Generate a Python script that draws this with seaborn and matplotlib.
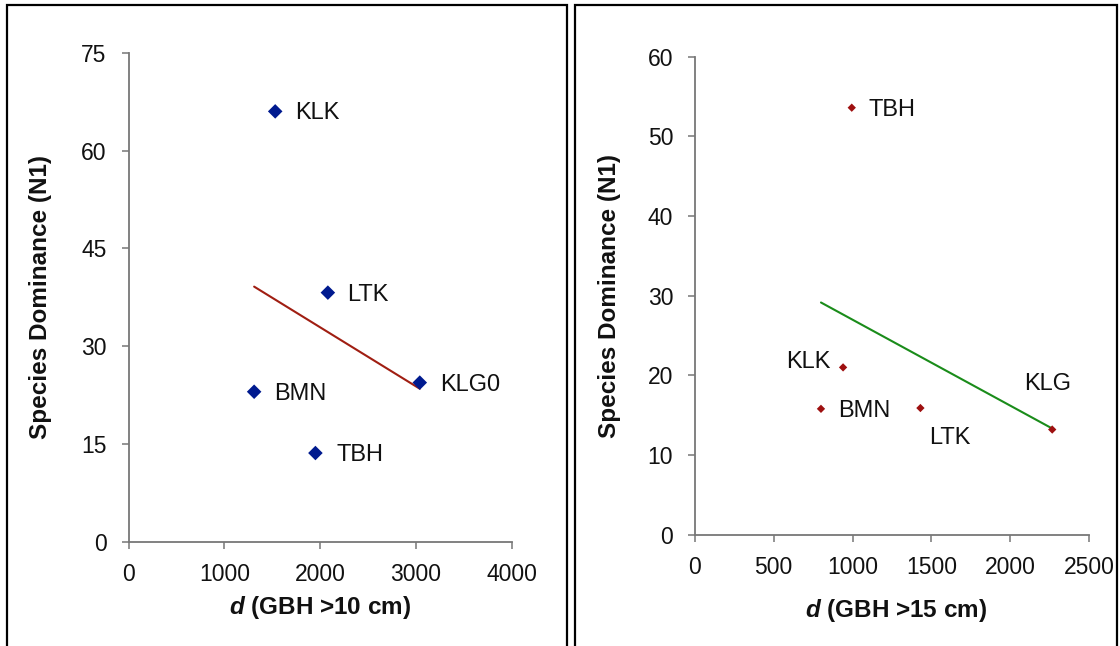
import matplotlib
matplotlib.use("Agg")
import matplotlib.pyplot as plt
import seaborn as sns
import pandas as pd
from matplotlib.patches import Rectangle

sns.set_theme(style="white")
plt.rcParams['font.family'] = ['Liberation Sans', 'DejaVu Sans']
plt.rcParams['mathtext.fontset'] = 'custom'
plt.rcParams['mathtext.bfit'] = 'Liberation Sans:italic:bold'
plt.rcParams['mathtext.it'] = 'Liberation Sans:italic'
plt.rcParams['mathtext.bf'] = 'Liberation Sans:bold'
plt.rcParams['mathtext.rm'] = 'Liberation Sans'

# Panel A data (GBH > 10 cm)
sites_a = ["KLK", "LTK", "KLG0", "BMN", "TBH"]
d_a = [1530, 2080, 3040, 1310, 1950]
n1_a = [66.0, 38.2, 24.4, 23.0, 13.6]

# Panel B data (GBH > 15 cm)
sites_b = ["TBH", "KLK", "BMN", "LTK", "KLG"]
d_b = [995, 940, 800, 1430, 2265]
n1_b = [53.6, 21.0, 15.8, 15.9, 13.2]

yticks_a = [0, 15, 30, 45, 60, 75]
xticks_a = [0, 1000, 2000, 3000, 4000]
yticks_b = [0, 10, 20, 30, 40, 50, 60]
xticks_b = [0, 500, 1000, 1500, 2000, 2500]

df_a = pd.DataFrame({"site": sites_a, "d": d_a, "n1": n1_a})
df_b = pd.DataFrame({"site": sites_b, "d": d_b, "n1": n1_b})

W, H = 1120, 646
fig = plt.figure(figsize=(11.2, 6.46), dpi=100)
fig.patch.set_facecolor("white")

def fx(px):
    return px / W

def fy(py):
    return 1 - py / H

# panel frames
for x0, x1 in [(7, 567), (575, 1117)]:
    fig.add_artist(Rectangle((fx(x0), fy(660)), fx(x1) - fx(x0), fy(5) - fy(660),
                             transform=fig.transFigure, fill=False,
                             edgecolor="black", linewidth=1.6, zorder=0))

ax1 = fig.add_axes([fx(128.7), fy(541.7), fx(511.7) - fx(128.7), fy(52.7) - fy(541.7)])
ax2 = fig.add_axes([fx(694.7), fy(534.7), fx(1089.3) - fx(694.7), fy(56.7) - fy(534.7)])

spine_col = "#777777"
TXT = "#111111"

def style(ax, xt, yt, xpad, ypad):
    for s in ["top", "right"]:
        ax.spines[s].set_visible(False)
    for s in ["left", "bottom"]:
        ax.spines[s].set_color(spine_col)
        ax.spines[s].set_linewidth(1.3)
    ax.set_xticks(xt)
    ax.set_yticks(yt)
    ax.set_xlim(xt[0], xt[-1])
    ax.set_ylim(yt[0], yt[-1])
    ax.tick_params(axis="both", direction="out", length=5, width=1.1,
                   color=spine_col, labelsize=16.5, labelcolor=TXT,
                   left=True, bottom=True)
    ax.tick_params(axis="x", pad=xpad)
    ax.tick_params(axis="y", pad=ypad)
    ax.set_facecolor("white")
    ax.grid(False)

# Panel A
sns.regplot(data=df_a, x="d", y="n1", ax=ax1, scatter=False, ci=None, truncate=True,
            line_kws=dict(color="#A01E12", linewidth=1.5))
sns.scatterplot(data=df_a, x="d", y="n1", ax=ax1, marker="D", s=55,
                color="#001A8F", edgecolor="none", zorder=3)
style(ax1, xticks_a, yticks_a, 10.5, 11)
offs_a = {"KLK": (20, -2, "left"), "LTK": (19, -2, "left"), "KLG0": (20, -2, "left"),
          "BMN": (20, -2, "left"), "TBH": (21, -2, "left")}
for s, x, y in zip(sites_a, d_a, n1_a):
    dx, dy, ha = offs_a[s]
    ax1.annotate(s, (x, y), xytext=(dx, dy), textcoords="offset pixels",
                 ha=ha, va="center", fontsize=17, color=TXT)
ax1.set_xlabel(r"$\mathbfit{d}$ (GBH >10 cm)", fontsize=17.5, fontweight="bold", color=TXT)
ax1.set_ylabel("Species Dominance (N1)", fontsize=17.5, fontweight="bold", color=TXT)
ax1.xaxis.set_label_coords(0.5, -0.107)
ax1.yaxis.set_label_coords(-0.20, 0.5)

# Panel B
sns.regplot(data=df_b, x="d", y="n1", ax=ax2, scatter=False, ci=None, truncate=True,
            line_kws=dict(color="#1A8C1A", linewidth=1.5))
sns.scatterplot(data=df_b, x="d", y="n1", ax=ax2, marker="D", s=18,
                color="#9E1010", edgecolor="none", zorder=3)
style(ax2, xticks_b, yticks_b, 10, 10.5)
offs_b = {"TBH": (17, -2, "left"), "KLK": (-13, 5, "right"), "BMN": (17, -2, "left"),
          "LTK": (9, -30, "left"), "KLG": (-5, 46, "center")}
for s, x, y in zip(sites_b, d_b, n1_b):
    dx, dy, ha = offs_b[s]
    ax2.annotate(s, (x, y), xytext=(dx, dy), textcoords="offset pixels",
                 ha=ha, va="center", fontsize=17, color=TXT)
ax2.set_xlabel(r"$\mathbfit{d}$ (GBH >15 cm)", fontsize=17.5, fontweight="bold", color=TXT)
ax2.set_ylabel("Species Dominance (N1)", fontsize=17.5, fontweight="bold", color=TXT)
ax2.xaxis.set_label_coords(0.51, -0.13)
ax2.yaxis.set_label_coords(-0.187, 0.5)

fig.savefig("out.png", dpi=100, facecolor="white")
